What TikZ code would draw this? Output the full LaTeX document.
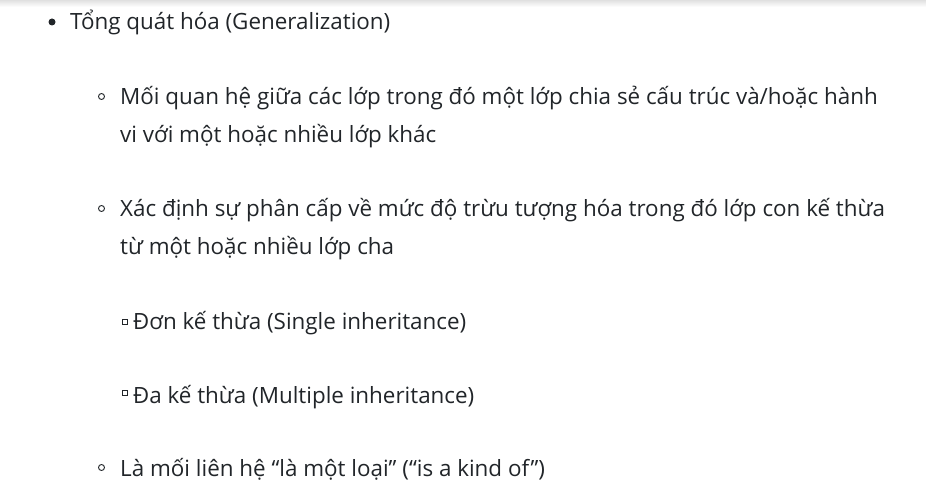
\documentclass[tikz,border=0pt]{standalone}
\usepackage{fontspec}
\setmainfont{Open Sans}
\usepackage{tikz}
\definecolor{bodytext}{HTML}{212529}

\begin{document}
\begin{tikzpicture}[x=1pt,y=-1pt,every text node part/.style={align=left},
item/.style={anchor=base west, inner sep=0pt, text=bodytext, font=\fontsize{22.4}{37.5}\selectfont},
dot/.style={circle, fill=bodytext, minimum size=7pt, inner sep=0pt},
ring/.style={circle, draw=bodytext, line width=0.9pt, minimum size=6pt, inner sep=0pt},
box/.style={rectangle, draw=bodytext, line width=0.9pt, minimum size=5pt, inner sep=0pt}]
\useasboundingbox (0,0) rectangle (926,495);
\shade[top color=black!12, bottom color=white] (0,0) rectangle (926,7);
% level 1
\node [dot] (gdot) at (52,22) {};
\node [item] (gen) at (70,30) {Tổng quát hóa (Generalization)};
% level 2 (base = last line)
\node [ring] (rel ring) at (101.5,96.5) {};
\node [item] (rel) at (120,142) {Mối quan hệ giữa các lớp trong đó một lớp chia sẻ cấu trúc và/hoặc hành\\vi với một hoặc nhiều lớp khác};
\node [ring] (hier ring) at (101.5,208.5) {};
\node [item] (hier) at (120,254) {Xác định sự phân cấp về mức độ trừu tượng hóa trong đó lớp con kế thừa\\từ một hoặc nhiều lớp cha};
% level 3
\node [box] (single box) at (124.5,322) {};
\node [item] (single) at (133,329.5) {Đơn kế thừa (Single inheritance)};
\node [box] (multi box) at (124.5,393) {};
\node [item] (multi) at (133,403) {Đa kế thừa (Multiple inheritance)};
% level 2
\node [ring] (kind ring) at (101.5,467.5) {};
\node [item] (kind) at (120,476.5) {Là mối liên hệ “là một loại” (“is a kind of”)};
\end{tikzpicture}
\end{document}
